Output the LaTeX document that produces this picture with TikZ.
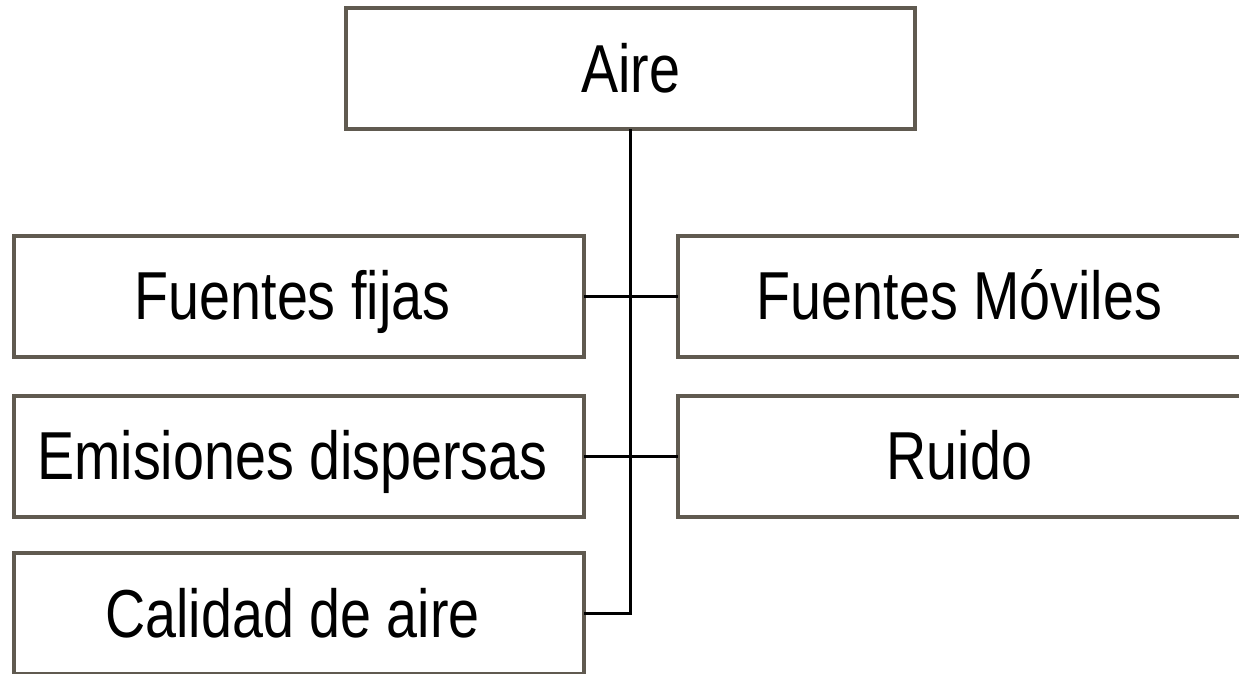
\documentclass[tikz,border=0pt]{standalone}
\usepackage{fontspec}
\setmainfont{Liberation Sans}[FakeStretch=0.82]
\definecolor{boxline}{RGB}{96,90,80}
\begin{document}
\begin{tikzpicture}[x=0.75pt,y=-0.75pt,
  box/.style={draw=boxline,line width=3pt,rectangle,inner sep=0pt,outer sep=0pt,
    minimum height=90.5pt,
    font=\fontsize{50.9pt}{60pt}\selectfont,text height=35pt,text depth=0pt},
  leftbox/.style={box,minimum width=427.5pt,execute at begin node={\hspace*{-9pt}}},
  rightbox/.style={box,minimum width=422.25pt},
  conn/.style={draw=black,line width=2.25pt}]
\useasboundingbox (0,0) rectangle (1239,674);
\node[box,minimum width=426.75pt] (aire) at (630.5,68.75) {Aire};
\node[leftbox] (ff) at (298.5,296.4) {Fuentes fijas};
\node[rightbox] (fm) at (959.5,296.4) {Fuentes Móviles};
\node[leftbox] (ed) at (298.5,456.2) {Emisiones dispersas};
\node[rightbox] (ru) at (959.5,456.2) {Ruido};
\node[leftbox] (ca) at (298.5,613.8) {Calidad de aire};
\draw[conn] (aire.south) |- (ca.east);
\draw[conn] (ff.east) -- (fm.west);
\draw[conn] (ed.east) -- (ru.west);
\end{tikzpicture}
\end{document}
